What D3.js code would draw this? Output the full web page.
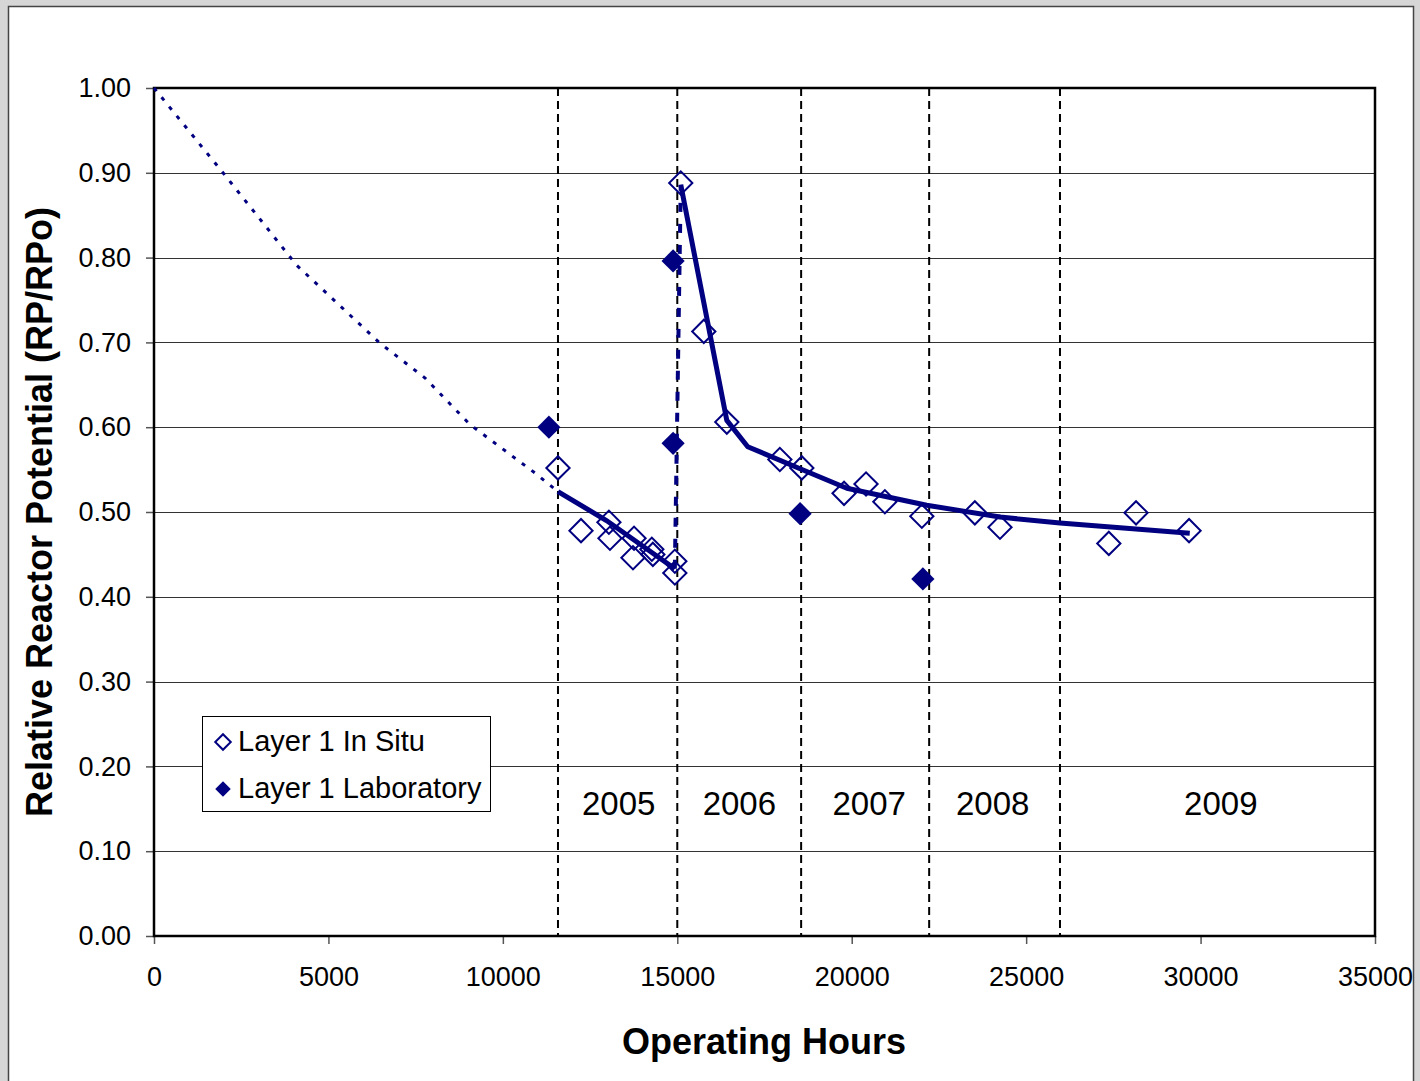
<!DOCTYPE html>
<html>
<head>
<meta charset="utf-8">
<script src="https://cdn.jsdelivr.net/npm/d3@7"></script>
<style>
  html, body { margin: 0; padding: 0; background: #d6d6d6; }
  svg { display: block; font-family: "Liberation Sans", Arial, sans-serif; }
</style>
</head>
<body>
<div id="chart"></div>
<script>
////////////////////////////////////////////////////////////////////
////////////////////////////  Data  ////////////////////////////////
// Layer 1 In Situ (open diamonds)
const inSituHours = [11580, 12240, 13040, 13070, 13760, 13730, 14270, 14300, 14930, 14930,
  15100, 15760, 16420, 17940, 18570, 19780, 20410, 20950, 22010, 23530, 24250, 27370, 28150, 29670];
const inSituRP = [0.552, 0.478, 0.488, 0.469, 0.469, 0.446, 0.456, 0.450, 0.442, 0.428,
  0.888, 0.713, 0.606, 0.562, 0.552, 0.522, 0.533, 0.512, 0.495, 0.499, 0.482, 0.463, 0.499, 0.478];

// Layer 1 Laboratory (filled diamonds)
const labHours = [11320, 14880, 14880, 18520, 22040];
const labRP = [0.600, 0.796, 0.581, 0.498, 0.421];

// trend lines
const dottedHours = [0, 1940, 4090, 5000, 6480, 7770, 9060, 10920, 11580];
const dottedRP = [1.0, 0.902, 0.791, 0.756, 0.699, 0.658, 0.603, 0.546, 0.524];
const fit1Hours = [11580, 12970, 14930];
const fit1RP = [0.524, 0.490, 0.433];
const jumpHours = [14930, 15100];
const jumpRP = [0.433, 0.886];
const fit2Hours = [15100, 16420, 17020, 18520, 19860, 22150, 24250, 25970, 29690];
const fit2RP = [0.886, 0.608, 0.577, 0.551, 0.528, 0.508, 0.494, 0.487, 0.475];

// year boundaries and labels
const yearBounds = [11580, 15000, 18550, 22220, 25970];
const yearLabels = ["2005", "2006", "2007", "2008", "2009"];
const yearLabelHours = [13320, 16780, 20500, 24040, 30580];

const xTicks = [0, 5000, 10000, 15000, 20000, 25000, 30000, 35000];
const yTicks = [0, 0.1, 0.2, 0.3, 0.4, 0.5, 0.6, 0.7, 0.8, 0.9, 1.0];

////////////////////////////////////////////////////////////////////
////////////////////////////  Init  ////////////////////////////////
const navy = "#000080";
const width = 1420;
const height = 1081;
const margin = { top: 88, right: 45, bottom: 145, left: 154 };

const svg = d3.select("#chart").append("svg")
  .attr("width", width)
  .attr("height", height);

// white panel
svg.append("rect")
  .attr("x", 8.5).attr("y", 6.5)
  .attr("width", 1405).attr("height", 1090)
  .attr("fill", "#fff")
  .attr("stroke", "#444")
  .attr("stroke-width", 1.5);

const x = d3.scaleLinear().domain([0, 35000]).range([margin.left, width - margin.right]);
const y = d3.scaleLinear().domain([0, 1]).range([height - margin.bottom, margin.top]);

// grid
svg.append("g")
  .selectAll("line")
  .data(yTicks)
  .join("line")
  .attr("x1", x(0)).attr("x2", x(35000))
  .attr("y1", d => Math.round(y(d)) + 0.5)
  .attr("y2", d => Math.round(y(d)) + 0.5)
  .attr("stroke", "#333")
  .attr("stroke-width", 1);

// axes
const yAxis = svg.append("g")
  .attr("transform", `translate(${x(0)},0)`)
  .call(d3.axisLeft(y).tickValues(yTicks).tickFormat(d3.format(".2f")).tickSize(8).tickPadding(15));
const xAxis = svg.append("g")
  .attr("transform", `translate(0,${y(0)})`)
  .call(d3.axisBottom(x).tickValues(xTicks).tickFormat(d3.format("d")).tickSize(8).tickPadding(23));

[yAxis, xAxis].forEach(a => {
  a.select(".domain").remove();
  a.selectAll(".tick line").attr("stroke", "#555").attr("stroke-width", 1.5);
  a.selectAll(".tick text")
    .attr("fill", "#000")
    .style("font-size", "27px")
    .style("font-family", "Liberation Sans, Arial, sans-serif");
});

// plot frame
svg.append("rect")
  .attr("x", x(0)).attr("y", y(1))
  .attr("width", x(35000) - x(0)).attr("height", y(0) - y(1))
  .attr("fill", "none")
  .attr("stroke", "#000")
  .attr("stroke-width", 2.5);

// year separators
svg.append("g")
  .selectAll("line")
  .data(yearBounds)
  .join("line")
  .attr("x1", d => x(d)).attr("x2", d => x(d))
  .attr("y1", y(1)).attr("y2", y(0))
  .attr("stroke", "#000")
  .attr("stroke-width", 2)
  .attr("stroke-dasharray", "8,5");

// year labels
svg.append("g")
  .selectAll("text")
  .data(yearLabels)
  .join("text")
  .attr("x", (d, i) => x(yearLabelHours[i]))
  .attr("y", y(0.157) + 12)
  .attr("text-anchor", "middle")
  .style("font-size", "33px")
  .text(d => d);

// lines
const lineGen = (hours, vals) => d3.line()
  .x((d, i) => x(hours[i]))
  .y((d, i) => y(vals[i]))(hours);

svg.append("path")
  .attr("d", lineGen(dottedHours, dottedRP))
  .attr("fill", "none")
  .attr("stroke", navy)
  .attr("stroke-width", 3)
  .attr("stroke-dasharray", "4,8");

svg.append("path")
  .attr("d", lineGen(fit1Hours, fit1RP))
  .attr("fill", "none")
  .attr("stroke", navy)
  .attr("stroke-width", 5);

svg.append("path")
  .attr("d", lineGen(jumpHours, jumpRP))
  .attr("fill", "none")
  .attr("stroke", navy)
  .attr("stroke-width", 4)
  .attr("stroke-dasharray", "9,12");

svg.append("path")
  .attr("d", lineGen(fit2Hours, fit2RP))
  .attr("fill", "none")
  .attr("stroke", navy)
  .attr("stroke-width", 5)
  .attr("stroke-linejoin", "round");

// markers
const diamond = d3.symbol().type(d3.symbolSquare).size(270);

svg.append("g")
  .selectAll("path")
  .data(inSituHours)
  .join("path")
  .attr("d", diamond)
  .attr("transform", (d, i) => `translate(${x(d)},${y(inSituRP[i])}) rotate(45)`)
  .attr("fill", "#fff")
  .attr("fill-opacity", 0)
  .attr("stroke", navy)
  .attr("stroke-width", 2);

svg.append("g")
  .selectAll("path")
  .data(labHours)
  .join("path")
  .attr("d", diamond)
  .attr("transform", (d, i) => `translate(${x(d)},${y(labRP[i])}) rotate(45)`)
  .attr("fill", navy);

// legend
const legend = svg.append("g").attr("transform", "translate(202,716)");
legend.append("rect")
  .attr("x", 0.5).attr("y", 0.5)
  .attr("width", 288).attr("height", 95)
  .attr("fill", "#fff")
  .attr("stroke", "#000")
  .attr("stroke-width", 1);
const legendItems = ["Layer 1 In Situ", "Layer 1 Laboratory"];
const legendSymbol = d3.symbol().type(d3.symbolSquare).size(120);
legendItems.forEach((name, i) => {
  legend.append("path")
    .attr("d", legendSymbol)
    .attr("transform", `translate(21,${26 + i * 47}) rotate(45)`)
    .attr("fill", i === 0 ? "#fff" : navy)
    .attr("stroke", navy)
    .attr("stroke-width", i === 0 ? 2 : 0);
  legend.append("text")
    .attr("x", 36)
    .attr("y", 25 + i * 47)
    .attr("dy", "0.35em")
    .style("font-size", "29px")
    .text(name);
});

// axis titles
svg.append("text")
  .attr("x", 764)
  .attr("y", 1054)
  .attr("text-anchor", "middle")
  .style("font-size", "36px")
  .style("font-weight", "bold")
  .text("Operating Hours");

svg.append("text")
  .attr("transform", "translate(52,512) rotate(-90)")
  .attr("text-anchor", "middle")
  .style("font-size", "36px")
  .style("font-weight", "bold")
  .text("Relative Reactor Potential (RP/RPo)");
</script>
</body>
</html>
